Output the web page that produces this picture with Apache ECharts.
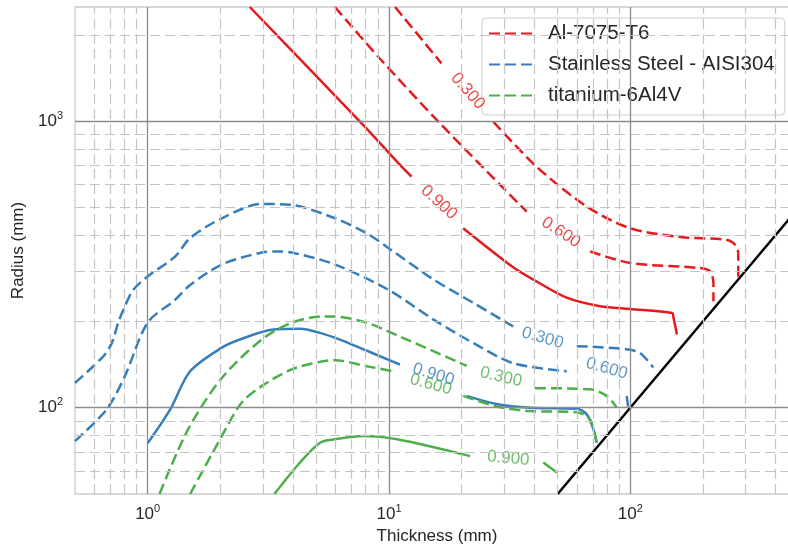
<!DOCTYPE html>
<html>
<head>
<meta charset="utf-8">
<script src="https://cdn.jsdelivr.net/npm/echarts@6/dist/echarts.min.js"></script>
<style>
  html, body { margin: 0; padding: 0; background: #ffffff; }
  #chart { width: 788px; height: 551px; }
</style>
</head>
<body>
<div id="chart"></div>
<script>
// Contour levels of the three materials, drawn on log-log axes (thickness vs radius, mm)
const materials = ['Al-7075-T6', 'Stainless Steel - AISI304', 'titanium-6Al4V'];
const levelNames = ['0.300', '0.600', '0.900'];

// Contour paths as [thickness, radius]; a null splits a path where its level label sits
const al_0300 = [[10.6, 2500], [16.5, 1590], null, [27.1, 994], [40.9, 693], [66, 503], [99.7, 423], [161, 394], [251, 385], [272, 370], [280, 346], [280, 280]];
const al_0600 = [[5.97, 2500], [9.18, 1650], [16.3, 980], [37.2, 483], null, [68.1, 351], [99.7, 320], [194, 307], [214, 299], [221, 272], [221, 235]];
const al_0900 = [[2.65, 2500], [7.95, 955], [11.1, 703], [12.4, 640], null, [20.3, 423], [32.7, 309], [39.6, 280], [54.5, 242], [74.9, 226], [99.7, 221], [149, 214], [151, 206], [156, 180]];

const ss_0300 = [[0.5, 122], [0.655, 151], [0.71, 168], [0.755, 198], [0.805, 226], [0.872, 258], [1.0, 287], [1.3, 337], [1.5, 391], [2.03, 458], [2.97, 514], [3.95, 510], [5.97, 458], [8.08, 406], [9.93, 361], [15.3, 280], [22.4, 232], [32.7, 192], null, [60, 164], [96.6, 160], [110, 155], [124.5, 138]];
const ss_0600 = [[0.5, 76.5], [0.676, 98.6], [0.805, 129], [1.0, 198], [1.3, 238], [1.5, 268], [2.03, 316], [2.97, 348], [3.48, 351], [4.07, 346], [5.97, 316], [9.93, 258], [15.3, 203], [22.4, 168], [32.7, 143], [54.5, 134], null, [96.6, 110], [97.9, 101]];
const ss_0900 = [[1.0, 75.1], [1.24, 98.6], [1.5, 134], [2.03, 162], [2.41, 173], [3.32, 187.3], [4.28, 188.4], [5.18, 182.4], [6.26, 172.9], [7.58, 161.8], [9.18, 151.2], [11.1, 141.5], null, [21, 110], [27.9, 103], [38.4, 100], [60, 99.2], [66, 94.8], [70.3, 84], [72.5, 75.5]];

const ti_0300 = [[1.12, 50], [1.47, 84], [2.03, 127], [2.97, 173], [3.95, 198], [5.26, 208], [5.88, 208], [8.08, 198], [11.1, 177], [21, 140], null, [40.3, 117], [68.1, 116], [79.8, 110], [87.9, 100]];
const ti_0600 = [[1.5, 50], [2.03, 79.7], [2.45, 104], [2.97, 119], [3.95, 136], [5.26, 145], [5.97, 146.5], [8.08, 139.6], [10.4, 134], null, [20.3, 110], [27.9, 101], [38.4, 97.3], [60, 96.5], [68.1, 91], [72.5, 75.5]];
const ti_0900 = [[3.35, 50], [4.28, 64.4], [5.18, 75.5], [5.97, 77.6], [7.83, 79.7], [10.8, 77.6], [21.7, 67.8], null, [43.6, 64.4], [49.6, 59.4]];

// Where each level label sits, [thickness, radius], in level order 0.300, 0.600, 0.900
const al_labels = [[21.2, 1272], [51.6, 409], [16.1, 520]];
const ss_labels = [[43.3, 175], [79.8, 137], [15.3, 130.6]];
const ti_labels = [[29.1, 127.9], [14.9, 120.5], [31.2, 66.5]];

// Limit line radius = thickness
const limitLine = [[50, 50], [500, 500]];

// Axis ranges and grid values
const xRange = [0.5, 500];
const yRange = [50, 2500];
const xMajor = [1, 10, 100];
const yMajor = [100, 1000];
const xMinor = [0.6, 0.7, 0.8, 0.9, 2, 3, 4, 5, 6, 7, 8, 9, 20, 30, 40, 50, 60, 70, 80, 90, 200, 300, 400];
const yMinor = [60, 70, 80, 90, 200, 300, 400, 500, 600, 700, 800, 900, 2000];

// ---- styling ----
const FONT = '"Liberation Sans", Arial, "DejaVu Sans", sans-serif';
const TEXT = '#262626';
const colors = ['#e41a1c', '#377eb8', '#4daf4a'];
const labelAngles = [[-49, -33, -42], [-16, -16, -17], [-13, -15, -5]];
const DASH = [11, 5];

const paths = [[al_0300, al_0600, al_0900], [ss_0300, ss_0600, ss_0900], [ti_0300, ti_0600, ti_0900]];
const labelSpots = [al_labels, ss_labels, ti_labels];

const series = [];

// grid lines drawn as mark lines in data space
const minorStyle = { color: '#c4c4c4', width: 1.2, type: [10, 5] };
const majorStyle = { color: '#8c8c8c', width: 1.3, type: 'solid' };
series.push({
  type: 'line', name: 'grid', data: [], silent: true, z: 1,
  markLine: {
    silent: true, symbol: ['none', 'none'], label: { show: false }, animation: false,
    emphasis: { disabled: true },
    data: [
      ...xMinor.map(v => ({ xAxis: v, lineStyle: minorStyle })),
      ...yMinor.map(v => ({ yAxis: v, lineStyle: minorStyle })),
      ...xMajor.map(v => ({ xAxis: v, lineStyle: majorStyle })),
      ...yMajor.map(v => ({ yAxis: v, lineStyle: majorStyle }))
    ]
  }
});

// contour lines: 0.300 and 0.600 dashed, 0.900 solid
paths.forEach((group, m) => {
  group.forEach((data, k) => {
    series.push({
      type: 'line', name: materials[m], data: data,
      symbol: 'none', showSymbol: false, smooth: 0.3, connectNulls: false,
      z: 3, silent: true, animation: false,
      lineStyle: { color: colors[m], width: 2.5, type: k < 2 ? DASH : 'solid' },
      itemStyle: { color: colors[m] },
      emphasis: { disabled: true }
    });
  });
});

// level labels
paths.forEach((group, m) => {
  series.push({
    type: 'scatter', name: 'levels-' + m, symbolSize: 1, z: 4, silent: true, animation: false,
    itemStyle: { color: 'rgba(0,0,0,0)' },
    emphasis: { disabled: true },
    data: labelSpots[m].map((p, k) => ({
      value: p, name: levelNames[k],
      label: {
        show: true, position: 'inside', formatter: '{b}', rotate: labelAngles[m][k],
        color: colors[m], fontSize: 17, fontFamily: FONT
      }
    }))
  });
});

// limit line
series.push({
  type: 'line', name: 'limit', data: limitLine, symbol: 'none', z: 3, silent: true, animation: false,
  lineStyle: { color: '#000000', width: 2.5 }, emphasis: { disabled: true }
});

function powerLabel(v) {
  const e = Math.round(Math.log10(v));
  if (Math.abs(v - Math.pow(10, e)) > 1e-6 * v) return '';
  return '{b|10}{s|' + e + '}';
}
const richPow = {
  b: { fontSize: 17, fontFamily: FONT, color: TEXT, lineHeight: 22 },
  s: { fontSize: 11, fontFamily: FONT, color: TEXT, verticalAlign: 'top', lineHeight: 11 }
};

const chart = echarts.init(document.getElementById('chart'), null, { renderer: 'canvas' });
chart.setOption({
  animation: false,
  backgroundColor: '#ffffff',
  textStyle: { fontFamily: FONT },
  grid: {
    left: 75, top: 7, right: -11, bottom: 57,
    show: true, borderColor: '#cccccc', borderWidth: 1.3, backgroundColor: '#ffffff',
    outerBoundsMode: 'none', containLabel: false
  },
  xAxis: {
    type: 'log', logBase: 10, min: xRange[0], max: xRange[1],
    axisLine: { show: false }, axisTick: { show: false }, splitLine: { show: false },
    axisLabel: { formatter: powerLabel, rich: richPow, margin: 9, showMinLabel: false, showMaxLabel: false },
    name: 'Thickness (mm)', nameLocation: 'middle', nameGap: 34,
    nameTextStyle: { fontSize: 17, fontFamily: FONT, color: TEXT }
  },
  yAxis: {
    type: 'log', logBase: 10, min: yRange[0], max: yRange[1],
    axisLine: { show: false }, axisTick: { show: false }, splitLine: { show: false },
    axisLabel: { formatter: powerLabel, rich: richPow, margin: 12, showMinLabel: false, showMaxLabel: false },
    name: 'Radius (mm)', nameLocation: 'middle', nameGap: 47, nameRotate: 90,
    nameTextStyle: { fontSize: 17, fontFamily: FONT, color: TEXT }
  },
  legend: {
    data: materials,
    orient: 'vertical', left: 482, top: 18,
    itemWidth: 43, itemHeight: 14, itemGap: 10,
    padding: [5, 10, 9, 6],
    selectedMode: false,
    backgroundColor: 'rgba(255,255,255,0.85)',
    borderColor: '#cccccc', borderWidth: 1, borderRadius: 4,
    itemStyle: { opacity: 0, borderWidth: 0 },
    textStyle: { fontSize: 20.5, fontFamily: FONT, color: TEXT, lineHeight: 20, padding: [0, 0, 0, 11] }
  },
  series: series
});
</script>
</body>
</html>
